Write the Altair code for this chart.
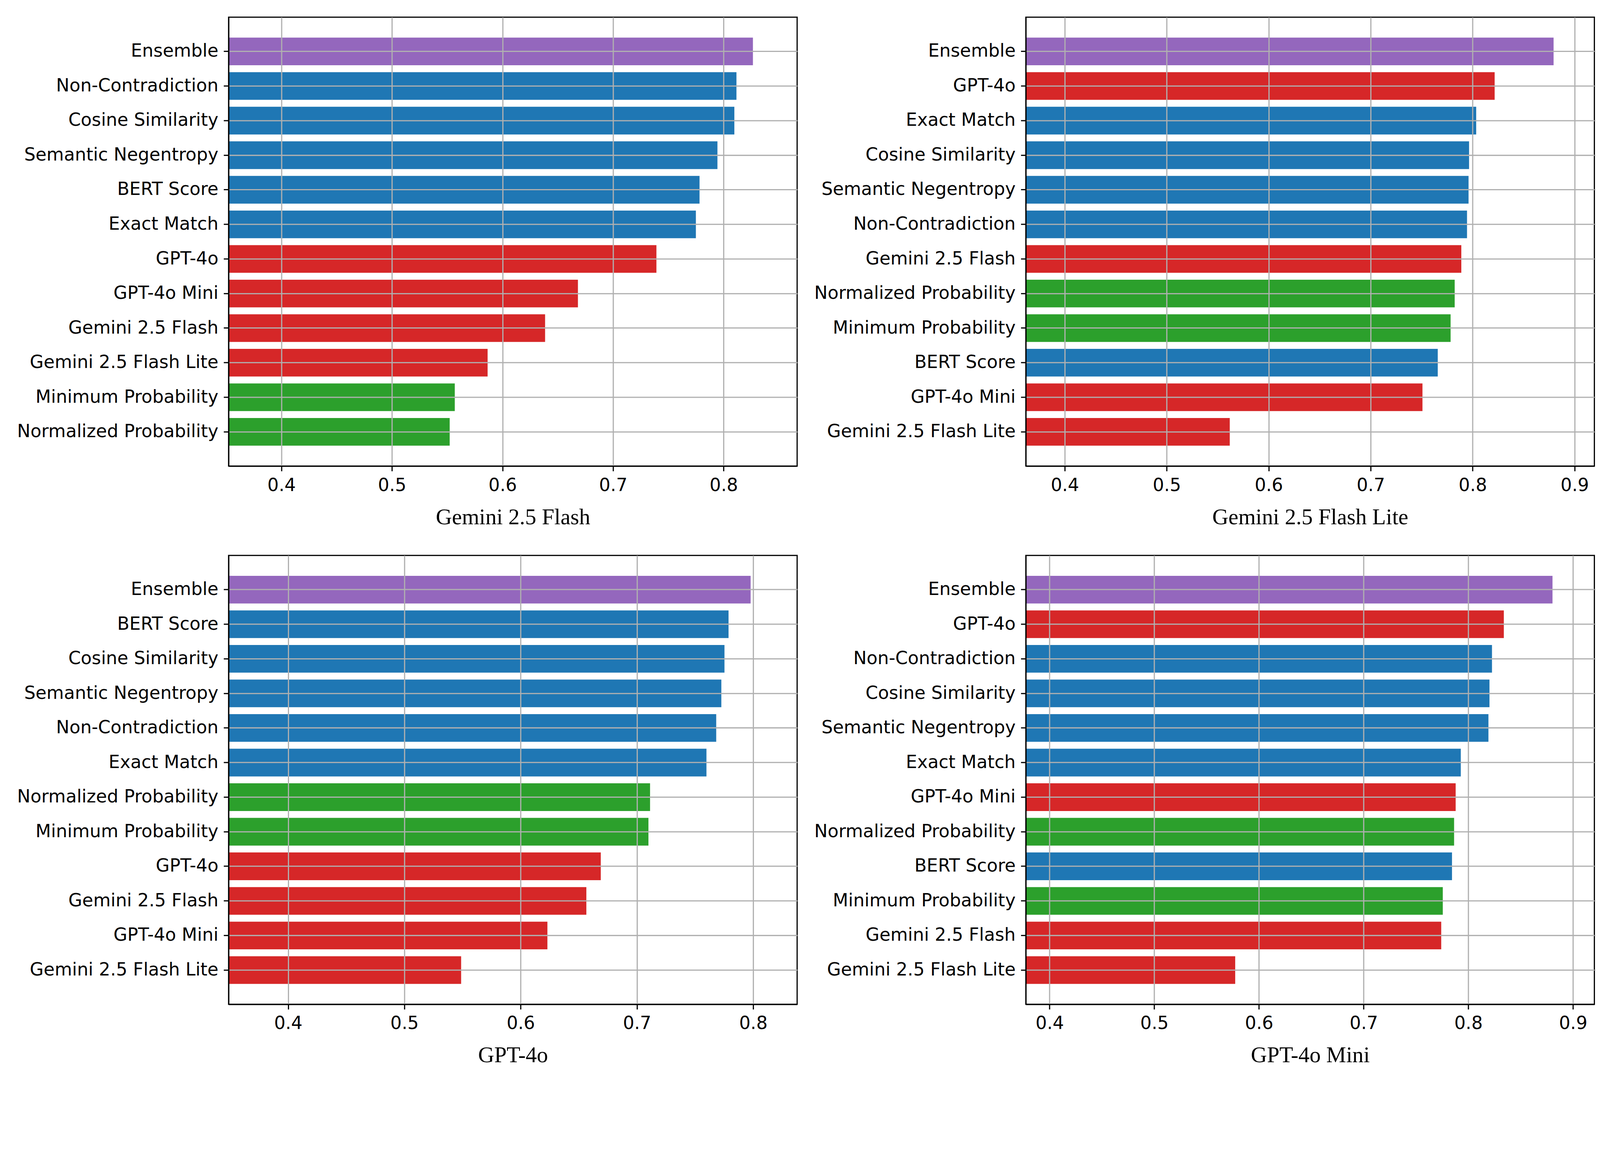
import altair as alt
import pandas as pd

methods = ["Ensemble", "Non-Contradiction", "Cosine Similarity", "Semantic Negentropy",
           "BERT Score", "Exact Match", "GPT-4o", "GPT-4o Mini", "Gemini 2.5 Flash",
           "Gemini 2.5 Flash Lite", "Minimum Probability", "Normalized Probability"]
types = ["ensemble", "black-box", "black-box", "black-box", "black-box", "black-box",
         "judge", "judge", "judge", "judge", "white-box", "white-box"]

type_names = ["ensemble", "black-box", "judge", "white-box"]
type_colors = ["#9467bd", "#1f77b4", "#d62728", "#2ca02c"]

panel_titles = ["Gemini 2.5 Flash", "Gemini 2.5 Flash Lite", "GPT-4o", "GPT-4o Mini"]

vals_gemini_flash = [0.8265, 0.8116, 0.8097, 0.7944, 0.7782, 0.7749, 0.7392, 0.6682, 0.6385, 0.5865, 0.5568, 0.5522]
vals_gemini_lite = [0.8794, 0.7945, 0.7965, 0.7960, 0.7658, 0.8035, 0.8216, 0.7508, 0.7889, 0.5618, 0.7784, 0.7824]
vals_gpt4o = [0.7978, 0.7682, 0.7753, 0.7726, 0.7788, 0.7598, 0.6689, 0.6230, 0.6565, 0.5488, 0.7099, 0.7113]
vals_gpt4o_mini = [0.8804, 0.8226, 0.8202, 0.8192, 0.7844, 0.7928, 0.8339, 0.7879, 0.7741, 0.5773, 0.7756, 0.7864]

tick_values = [0.4, 0.5, 0.6, 0.7, 0.8, 0.9]

LW = 3.3
W, H = 1591, 1256


def panel(values, title):
    df = pd.DataFrame({"method": methods, "value": values, "type": types})
    lo = min(values) - 0.2
    hi = max(values) + 0.04
    ticks = [t for t in tick_values if lo <= t <= hi]
    return alt.Chart(df).mark_bar(clip=True).encode(
        y=alt.Y("method:N", sort="-x",
                scale=alt.Scale(paddingInner=0.2, paddingOuter=0.59),
                axis=alt.Axis(title=None, bandPosition=0.5, zindex=1,
                              minExtent=600, maxExtent=600, labelLimit=1000)),
        x=alt.X("value:Q",
                scale=alt.Scale(domain=[lo, hi], nice=False, zero=False),
                axis=alt.Axis(values=ticks, format=".1f", title=title, zindex=1,
                              titlePadding=34)),
        x2=alt.value(0),
        color=alt.Color("type:N", scale=alt.Scale(domain=type_names, range=type_colors), legend=None),
    ).properties(width=W, height=H)


p1 = panel(vals_gemini_flash, panel_titles[0])
p2 = panel(vals_gemini_lite, panel_titles[1])
p3 = panel(vals_gpt4o, panel_titles[2])
p4 = panel(vals_gpt4o_mini, panel_titles[3])

chart = alt.vconcat(
    alt.hconcat(p1, p2, spacing=36),
    alt.hconcat(p3, p4, spacing=36),
    spacing=71,
).properties(
    padding={"left": 29, "top": -90, "right": 5, "bottom": -115},
    background="white",
).configure_view(
    stroke="black", strokeWidth=LW,
).configure_axis(
    domainColor="black", domainWidth=LW,
    tickColor="black", tickWidth=LW, tickSize=14,
    labelFont="DejaVu Sans", labelFontSize=50, labelColor="black", labelPadding=15,
    grid=True, gridColor="#b0b0b0", gridWidth=LW, gridOpacity=1,
    titleFont="Liberation Serif", titleFontSize=62.5, titleFontWeight="normal", titleColor="black",
)

chart.save("out.html", embed_options={"renderer": "svg", "actions": False})
